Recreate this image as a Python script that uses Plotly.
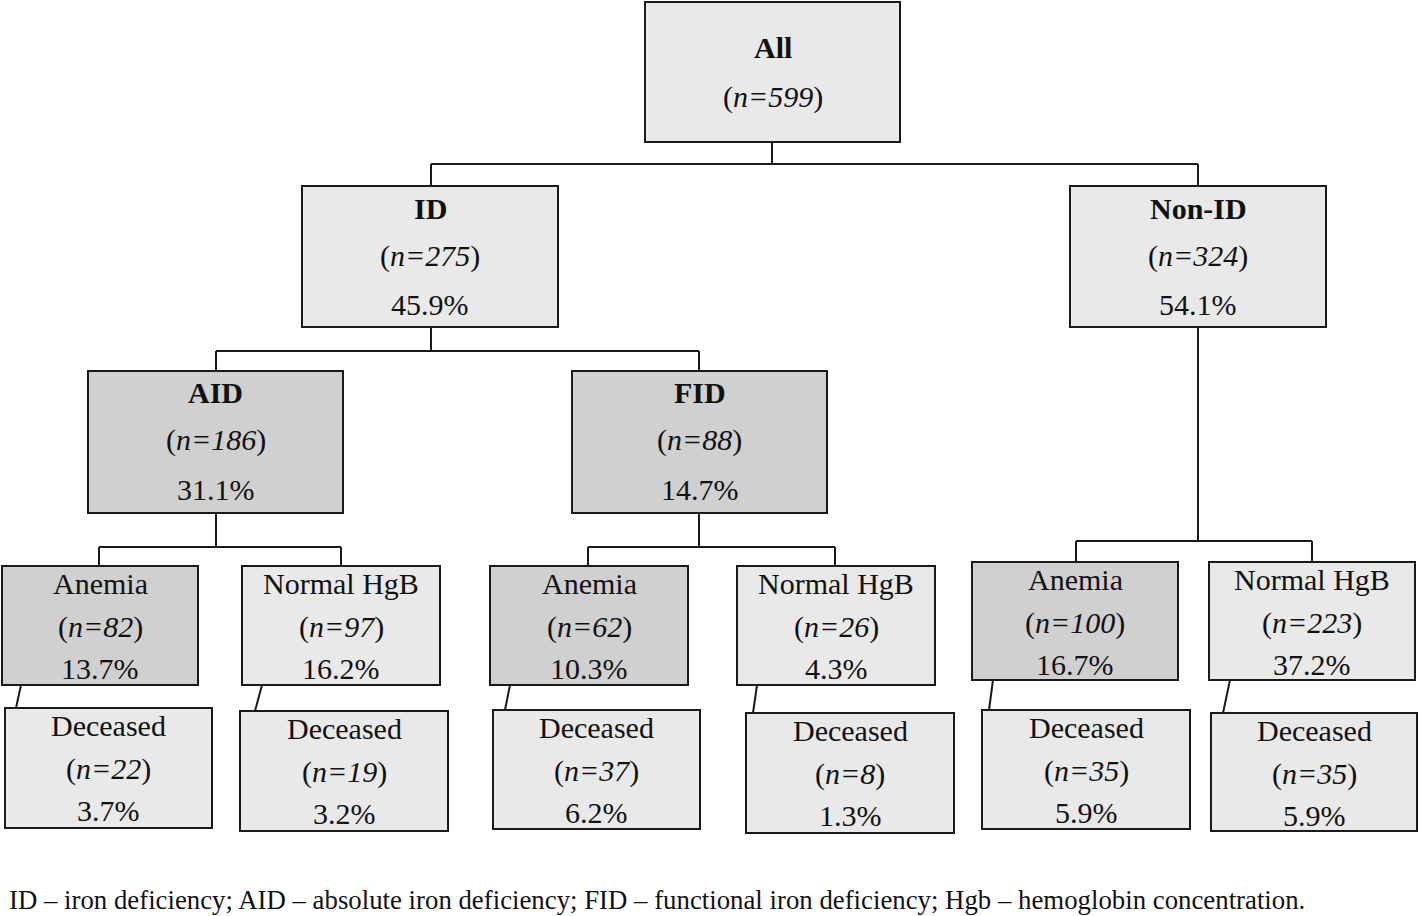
import plotly.graph_objects as go

# ---- data ----
labels = ["All", "ID", "Non-ID", "AID", "FID",
          "Anemia", "Normal HgB", "Anemia", "Normal HgB", "Anemia", "Normal HgB",
          "Deceased", "Deceased", "Deceased", "Deceased", "Deceased", "Deceased"]
n_values = [599, 275, 324, 186, 88,
            82, 97, 62, 26, 100, 223,
            22, 19, 37, 8, 35, 35]
percents = [None, "45.9%", "54.1%", "31.1%", "14.7%",
            "13.7%", "16.2%", "10.3%", "4.3%", "16.7%", "37.2%",
            "3.7%", "3.2%", "6.2%", "1.3%", "5.9%", "5.9%"]
bold_label = [True, True, True, True, True] + [False] * 12
dark_fill = [False, False, False, True, True,
             True, False, True, False, True, False,
             False, False, False, False, False, False]
footnote = ("ID \u2013 iron deficiency; AID \u2013 absolute iron deficiency; "
            "FID \u2013 functional iron deficiency; Hgb \u2013 hemoglobin concentration.")

# ---- layout geometry (pixels, y downwards) : x0, x1, y0, y1 ----
boxes = [
    (645, 900, 2, 142),
    (302, 558, 186, 327),
    (1070, 1326, 186, 327),
    (88, 343, 371, 513),
    (572, 827, 371, 513),
    (2, 198, 566, 685),
    (242, 440, 566, 685),
    (490, 688, 566, 685),
    (737, 935, 566, 685),
    (972, 1178, 562, 680),
    (1209, 1415, 562, 680),
    (5, 212, 708, 828),
    (240, 448, 711, 831),
    (493, 700, 710, 829),
    (746, 954, 713, 833),
    (982, 1190, 710, 829),
    (1211, 1417, 713, 831),
]
# text line offsets from box top
offsets_top = [(45, 95), (22, 70, 118), (22, 70, 118), (21, 69, 118), (21, 69, 118)]
offsets_low = (17, 61, 102)

connectors = [
    [(772, 142), (772, 164)], [(431, 164), (1198, 164)],
    [(431, 164), (431, 186)], [(1198, 164), (1198, 186)],
    [(431, 327), (431, 351)], [(216, 351), (699, 351)],
    [(216, 351), (216, 371)], [(699, 351), (699, 371)],
    [(216, 513), (216, 547)], [(99, 547), (341, 547)],
    [(99, 547), (99, 566)], [(341, 547), (341, 566)],
    [(699, 513), (699, 547)], [(588, 547), (835, 547)],
    [(588, 547), (588, 566)], [(835, 547), (835, 566)],
    [(1198, 327), (1198, 541)], [(1076, 541), (1312, 541)],
    [(1076, 541), (1076, 562)], [(1312, 541), (1312, 562)],
    [(21, 685), (16, 708)], [(262, 685), (255, 711)],
    [(510, 685), (505, 710)], [(757, 685), (753, 713)],
    [(993, 680), (989, 710)], [(1230, 680), (1223, 713)],
]

LIGHT = "#e9e9e9"
DARK = "#d1d0d1"
LINE = "#1a1a1a"
FONT = "Liberation Serif"
FS = 30
W, H = 1419, 916

fig = go.Figure()
shapes = []
annotations = []

for seg in connectors:
    (xa, ya), (xb, yb) = seg
    shapes.append(dict(type="line", x0=xa, y0=ya, x1=xb, y1=yb,
                       line=dict(color=LINE, width=2), layer="below"))

for i, (x0, x1, y0, y1) in enumerate(boxes):
    shapes.append(dict(type="rect", x0=x0, x1=x1, y0=y0, y1=y1,
                       fillcolor=DARK if dark_fill[i] else LIGHT,
                       line=dict(color=LINE, width=2), layer="below"))
    cx = (x0 + x1) / 2
    lab = f"<b>{labels[i]}</b>" if bold_label[i] else labels[i]
    lines = [lab, f"(<i>n={n_values[i]}</i>)"]
    if percents[i] is not None:
        lines.append(percents[i])
    offs = offsets_top[i] if i < 5 else offsets_low
    for txt, off in zip(lines, offs):
        annotations.append(dict(x=cx, y=y0 + off, text=txt, showarrow=False,
                                xanchor="center", yanchor="middle",
                                font=dict(family=FONT, size=FS, color="#111111")))

annotations.append(dict(x=7, y=900, text=footnote, showarrow=False,
                        xanchor="left", yanchor="middle",
                        font=dict(family=FONT, size=26.8, color="#111111")))

fig.update_layout(
    width=W, height=H,
    margin=dict(l=0, r=0, t=0, b=0),
    paper_bgcolor="white", plot_bgcolor="white",
    xaxis=dict(range=[0, W], visible=False, fixedrange=True),
    yaxis=dict(range=[H, 0], visible=False, fixedrange=True),
    shapes=shapes, annotations=annotations, showlegend=False,
)

fig.write_html("out.html",
               config={"displayModeBar": False},
               post_script="document.body.style.margin='0';"
                           "document.body.style.overflow='hidden';")
